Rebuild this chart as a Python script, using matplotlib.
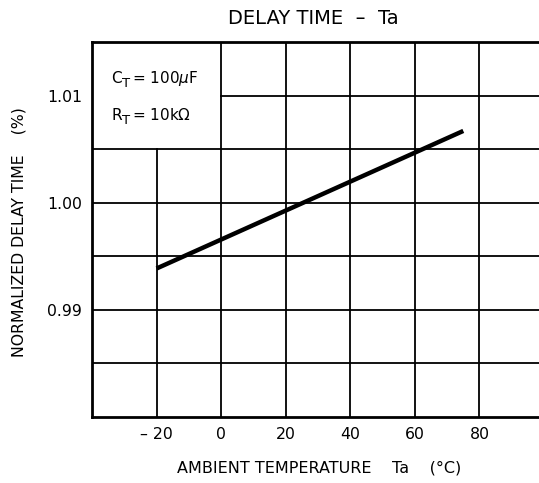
import numpy as np
import matplotlib
matplotlib.use('Agg')
import matplotlib.pyplot as plt

# data
ta = [-20, 75]
ndt = [0.99386, 1.0067]

xticks = [-20, 0, 20, 40, 60, 80]
xticklb = ['\u2013 20', '0', '20', '40', '60', '80']
yticks = [0.99, 1.00, 1.01]
yticklb = ['0.99', '1.00', '1.01']
hgrid = [0.985, 0.99, 0.995, 1.00, 1.005, 1.01]

plt.rcParams['font.family'] = ['DejaVu Sans']

W, H = 539, 483
fig = plt.figure(figsize=(W/100, H/100), dpi=100)
ax = fig.add_axes([92/W, 66/H, 452/W, 375/H])
ax.set_xlim(-40, 100)
ax.set_ylim(0.98, 1.015)

# grid (the upper-left corner is left blank for the conditions box)
for y in hgrid:
    x0 = 0 if y > 1.007 else -40
    ax.plot([x0, 100], [y, y], color='k', lw=1.3, zorder=1)
for x in xticks:
    y1 = 1.005 if x < 0 else 1.015
    ax.plot([x, x], [0.98, y1], color='k', lw=1.3, zorder=1)

ax.plot(ta, ndt, color='k', lw=3.2, solid_capstyle='butt', zorder=3)

for s in ['left', 'bottom', 'top']:
    ax.spines[s].set_linewidth(2)
ax.spines['right'].set_visible(False)

ax.set_xticks(xticks)
ax.set_xticklabels(xticklb, fontsize=11.3)
ax.set_yticks(yticks)
ax.set_yticklabels(yticklb, fontsize=11.3)
ax.tick_params(length=0, pad=7)

# conditions box text, subscript T drawn a bit larger than mathtext would
def cond(y, main, sub, rest):
    ax.text(-34, y, main, fontsize=11, va='baseline')
    ax.annotate(sub, xy=(-34, y), xytext=(7.8, -3), textcoords='offset points',
                fontsize=9.5, va='baseline')
    ax.annotate(rest, xy=(-34, y), xytext=(15, 0), textcoords='offset points',
                fontsize=11, va='baseline')

cond(1.0112, 'C', 'T', r'= 100$\mu$F')
cond(1.0077, 'R', 'T', r'= 10k$\Omega$')

fig.text(313/W, 1 - 18/H, 'DELAY TIME  \u2013  Ta', fontsize=14, ha='center', va='center')
fig.text(319/W, 1 - 468/H, 'AMBIENT TEMPERATURE    Ta    (\u00b0C)', fontsize=11.5, ha='center', va='center')
fig.text(19/W, 1 - 232/H, 'NORMALIZED DELAY TIME    (%)', fontsize=11.3, ha='center', va='center', rotation=90)

fig.savefig('out.png', dpi=100)
